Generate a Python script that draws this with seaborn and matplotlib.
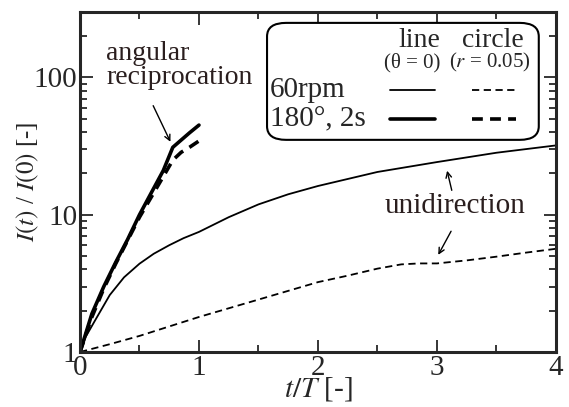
import matplotlib
matplotlib.use("Agg")
import matplotlib.pyplot as plt
import seaborn as sns
from matplotlib.patches import FancyBboxPatch
from matplotlib.lines import Line2D

# unidirection, 60rpm
t_uni_line = [0, 0.05, 0.12, 0.25, 0.37, 0.5, 0.62, 0.75, 0.87, 1.0, 1.25, 1.5, 1.75, 2.0, 2.5, 3.0, 3.5, 4.0]
I_uni_line = [1, 1.3, 1.66, 2.6, 3.5, 4.4, 5.2, 6.0, 6.75, 7.5, 9.6, 11.9, 14.1, 16.2, 20.5, 24.2, 28.3, 32]
t_uni_circ = [0, 0.25, 0.5, 1.0, 1.5, 2.0, 2.25, 2.5, 2.7, 2.85, 3.0, 3.25, 3.5, 3.75, 4.0]
I_uni_circ = [1, 1.14, 1.31, 1.8, 2.41, 3.23, 3.6, 4.05, 4.35, 4.42, 4.42, 4.65, 4.95, 5.3, 5.65]

# angular reciprocation, 180 deg, 2s
t_ang = [0, 0.1, 0.2, 0.3, 0.4, 0.5, 0.6, 0.7, 0.78, 0.85, 0.92, 1.0]
I_ang_line = [1, 1.9, 3.0, 4.5, 6.6, 10, 14.5, 21, 31, 35, 39.5, 45]
I_ang_circ = [1, 1.8, 2.9, 4.4, 6.5, 9.6, 13.5, 19, 25, 28.5, 31, 34.5]

sns.set_style("ticks")
plt.rcParams['font.family'] = ['Liberation Serif', 'DejaVu Serif']
plt.rcParams['mathtext.fontset'] = 'stix'
plt.rcParams['xtick.direction'] = 'in'
plt.rcParams['ytick.direction'] = 'in'

fig = plt.figure(figsize=(5.69, 4.07), dpi=100)
ax = fig.add_axes([0.1406, 0.1351, 0.977 - 0.1406, 0.9705 - 0.1351])

sns.lineplot(x=t_uni_line, y=I_uni_line, ax=ax, color='black', lw=1.3)
sns.lineplot(x=t_uni_circ, y=I_uni_circ, ax=ax, color='black', lw=1.3, linestyle=(0, (4, 2.5)))
sns.lineplot(x=t_ang, y=I_ang_line, ax=ax, color='black', lw=2.6)
sns.lineplot(x=t_ang, y=I_ang_circ, ax=ax, color='black', lw=2.6, linestyle=(0, (3, 2)))

ax.set_yscale('log')
ax.set_xlim(0, 4)
ax.set_ylim(1, 300)
ax.set_xticks([0, 1, 2, 3, 4])
ax.set_xticks([0.5, 1.5, 2.5, 3.5], minor=True)
ax.set_yticks([1, 10, 100])
ax.set_yticklabels(['1', '10', '100'])
ax.tick_params(which='both', top=True, right=True, labelsize=21, width=1.3, pad=2)
ax.tick_params(which='major', length=9)
ax.tick_params(which='minor', length=5)
for s in ax.spines.values():
    s.set_linewidth(2.2)
ax.set_xlabel('$t/T$ [-]', fontsize=21, labelpad=-4)
ax.set_ylabel('$I(t)$ / $I(0)$ [-]', fontsize=18, labelpad=-5)

# annotations
ax.text(0.22, 122, 'angular\nreciprocation', fontsize=20, ha='left', va='center',
        linespacing=0.95, color='#2a1e1e')
ax.annotate('', xy=(0.77, 32.6), xytext=(0.605, 65),
            arrowprops=dict(arrowstyle='->', lw=1.0, color='black'))
ax.text(3.15, 11.6, 'unidirection', fontsize=21, ha='center', va='center', color='#2a1e1e')
ax.annotate('', xy=(3.08, 21.9), xytext=(3.13, 14.4),
            arrowprops=dict(arrowstyle='->', lw=1.0, color='black'))
ax.annotate('', xy=(3.0, 4.9), xytext=(3.13, 7.9),
            arrowprops=dict(arrowstyle='->', lw=1.0, color='black'))

# legend table
box = FancyBboxPatch((0.393, 0.624), 0.571, 0.344, boxstyle='round,pad=0,rounding_size=0.04',
                     transform=ax.transAxes, fill=True, facecolor='white',
                     edgecolor='black', lw=1.5, zorder=5)
ax.add_patch(box)
ax.text(0.714, 0.916, 'line', transform=ax.transAxes, fontsize=20, ha='center', va='center', zorder=6)
ax.text(0.868, 0.916, 'circle', transform=ax.transAxes, fontsize=20, ha='center', va='center', zorder=6)
ax.text(0.697, 0.851, '(θ = 0)', transform=ax.transAxes, fontsize=15, ha='center', va='center', zorder=6)
ax.text(0.861, 0.851, '($r$ = 0.05)', transform=ax.transAxes, fontsize=15, ha='center', va='center', zorder=6)
ax.text(0.399, 0.771, '60rpm', transform=ax.transAxes, fontsize=21, ha='left', va='center', zorder=6)
ax.text(0.399, 0.685, '180°, 2s', transform=ax.transAxes, fontsize=21, ha='left', va='center', zorder=6)
for y, lw, dash in [(0.771, 1.3, (4, 2.5)), (0.685, 2.6, (3, 2))]:
    ax.add_line(Line2D([0.651, 0.746], [y, y], transform=ax.transAxes, color='black', lw=lw, zorder=6))
    ax.add_line(Line2D([0.823, 0.917], [y, y], transform=ax.transAxes, color='black', lw=lw,
                       linestyle=(0, dash), zorder=6))

fig.savefig('out.png', dpi=100)
